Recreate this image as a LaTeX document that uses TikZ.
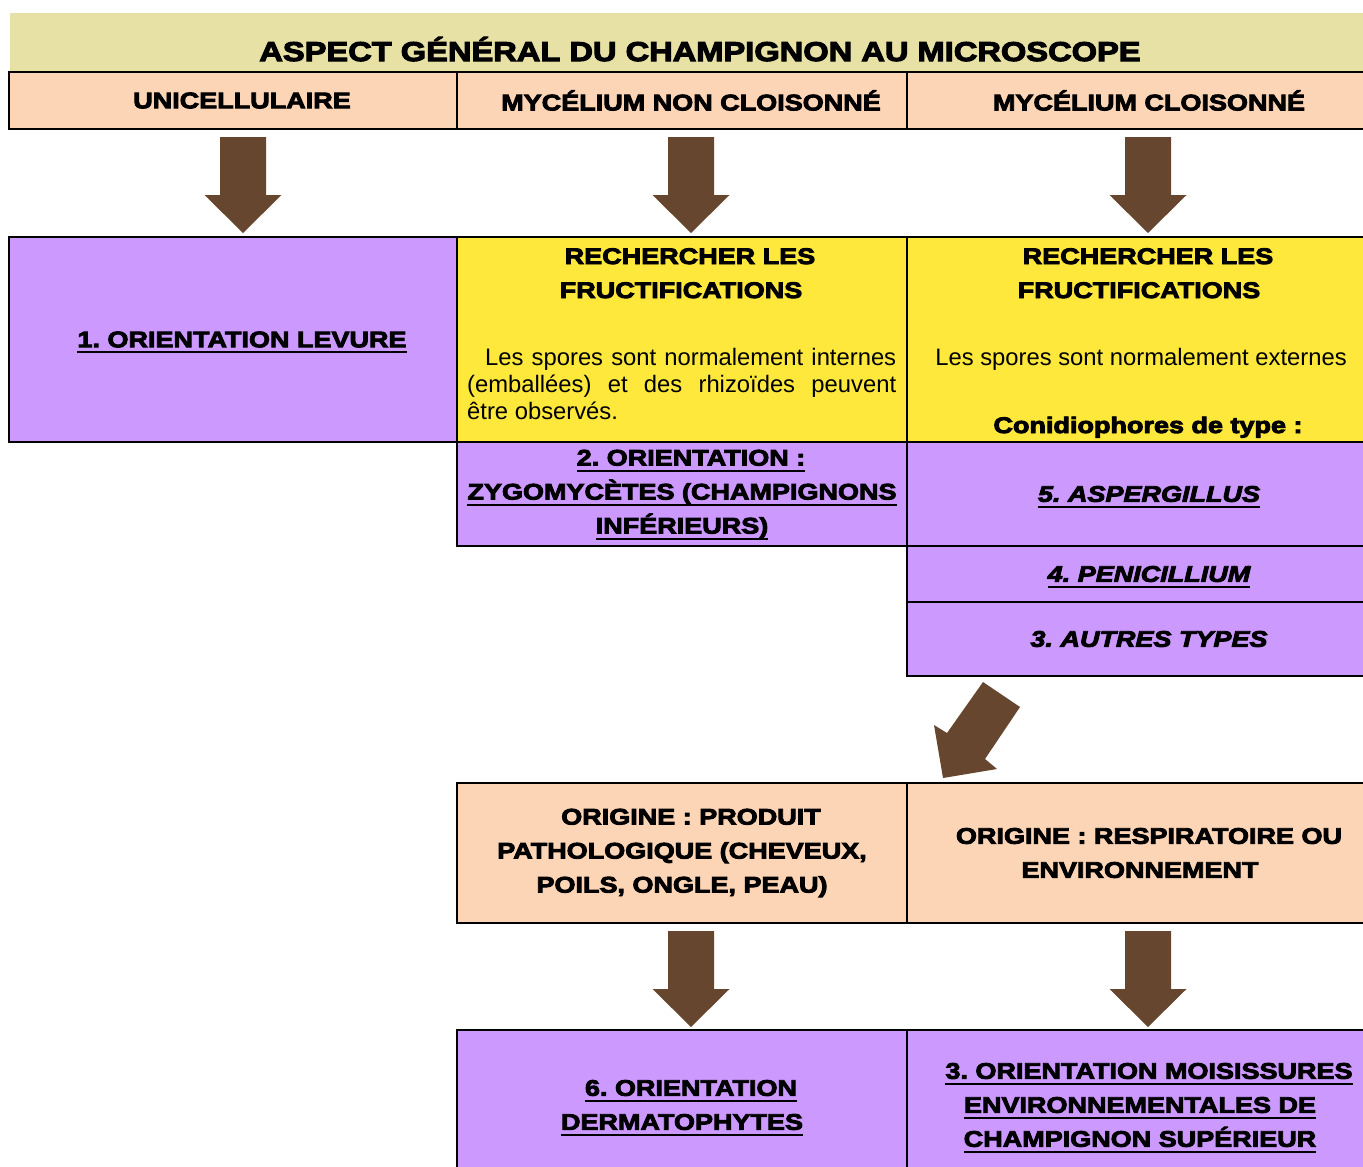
\documentclass[tikz,border=0pt]{standalone}
\usepackage{fontspec}
\setmainfont{Liberation Sans}
\newfontfamily\heavyfam{Liberation Sans Bold}[FakeBold=4,FakeStretch=1.2]
\newfontfamily\heavyitfam{Liberation Sans Bold Italic}[FakeBold=4,FakeStretch=1.2]
\usetikzlibrary{calc}
\definecolor{khaki}{HTML}{E8E1A6}
\definecolor{peach}{HTML}{FBD5B5}
\definecolor{lilac}{HTML}{CC99FF}
\definecolor{yel}{HTML}{FEE83C}
\definecolor{brn}{HTML}{67462F}
\frenchspacing
\newcommand\myul[1]{\setbox0=\hbox{#1}\rlap{\copy0}\smash{\rule[-6pt]{\wd0}{2pt}}}
\newcommand\fl{\hspace*{18pt}}
\tikzset{
  cell/.style={draw=black,line width=2pt,anchor=north west,inner sep=0pt,align=center,
    font=\heavyfam\fontsize{22.5}{34}\selectfont},
  itcell/.style={cell,font=\heavyitfam\fontsize{22.5}{34}\selectfont},
  hv/.style={inner sep=0pt,font=\heavyfam\fontsize{22.5}{34}\selectfont},
  body/.style={inner sep=0pt,font=\fontsize{23.8}{27}\selectfont},
  downarr/.pic={\fill[brn] (-23,0) -- (23,0) -- (23,58) -- (38.5,58) -- (0,96) -- (-38.5,58) -- (-23,58) -- cycle;}
}
\begin{document}
\begin{tikzpicture}[x=1pt,y=-1pt]
\useasboundingbox[fill=white] (0,0) rectangle (1363,1167);
% title band
\fill[khaki] (10,13) rectangle (1372,71);
\node[hv,anchor=base,font=\heavyfam\fontsize{27.2}{30}\selectfont] (title) at (700,61) {ASPECT GÉNÉRAL DU CHAMPIGNON AU MICROSCOPE};
% header row
\node[cell,fill=peach,minimum width=448pt,minimum height=57pt] (h1) at (8,71) {\fl UNICELLULAIRE};
\node[cell,fill=peach,minimum width=450pt,minimum height=57pt] (h2) at (456,71) {\fl MYCÉLIUM NON CLOISONNÉ};
\node[cell,fill=peach,minimum width=466pt,minimum height=57pt] (h3) at (906,71) {\fl MYCÉLIUM CLOISONNÉ};
% row 2
\node[cell,fill=lilac,minimum width=448pt,minimum height=205pt] (c1) at (8,236) {\fl\myul{1. ORIENTATION LEVURE}};
\node[cell,fill=yel,minimum width=450pt,minimum height=205pt] (y2) at (456,236) {};
\node[cell,fill=yel,minimum width=466pt,minimum height=205pt] (y3) at (906,236) {};
% row 3
\node[cell,fill=lilac,minimum width=450pt,minimum height=104pt] (z2) at (456,441)
  {\fl\myul{2. ORIENTATION :}\\\myul{ZYGOMYCÈTES (CHAMPIGNONS}\\\myul{INFÉRIEURS)}};
\node[itcell,fill=lilac,minimum width=466pt,minimum height=104pt] (a5) at (906,441) {\fl\myul{5. ASPERGILLUS}};
\node[itcell,fill=lilac,minimum width=466pt,minimum height=56pt] (a4) at (906,545) {\fl\myul{4. PENICILLIUM}};
\node[itcell,fill=lilac,minimum width=466pt,minimum height=74pt] (a3) at (906,601) {\fl 3. AUTRES TYPES};
% row 4
\node[cell,fill=peach,minimum width=450pt,minimum height=140pt] (o1) at (456,782)
  {\fl ORIGINE : PRODUIT\\PATHOLOGIQUE (CHEVEUX,\\POILS, ONGLE, PEAU)};
\node[cell,fill=peach,minimum width=466pt,minimum height=140pt] (o2) at (906,782)
  {\fl ORIGINE : RESPIRATOIRE OU\\ENVIRONNEMENT};
% row 5
\node[cell,fill=lilac,minimum width=450pt,minimum height=150pt] (d6) at (456,1029)
  {\fl\myul{6. ORIENTATION}\\\myul{DERMATOPHYTES}};
\node[cell,fill=lilac,minimum width=466pt,minimum height=150pt] (m3) at (906,1029)
  {\fl\myul{3. ORIENTATION MOISISSURES}\\\myul{ENVIRONNEMENTALES DE}\\\myul{CHAMPIGNON SUPÉRIEUR}};
% yellow cell texts
\node[hv,anchor=base] (y2a) at (690,264) {RECHERCHER LES};
\node[hv,anchor=base] (y2b) at (681,298) {FRUCTIFICATIONS};
\node[body,anchor=base west] (y2c) at (485,365) {\makebox[411pt][s]{Les spores sont normalement internes}};
\node[body,anchor=base west] (y2d) at (467,392) {\makebox[429pt][s]{(emballées) et des rhizoïdes peuvent}};
\node[body,anchor=base west] (y2e) at (467,419) {être observés.};
\node[hv,anchor=base] (y3a) at (1148,264) {RECHERCHER LES};
\node[hv,anchor=base] (y3b) at (1139,298) {FRUCTIFICATIONS};
\node[body,anchor=base] (y3c) at (1141,365) {Les spores sont normalement externes};
\node[hv,anchor=base] (y3d) at (1148,433) {Conidiophores de type :};
% arrows
\pic at ($(h1.south)+(10,7)$) {downarr};
\pic at ($(h2.south)+(9,7)$) {downarr};
\pic at ($(h3.south)+(8,7)$) {downarr};
\pic at ($(o1.south)+(9,7)$) {downarr};
\pic at ($(o2.south)+(8,7)$) {downarr};
\fill[brn] (983,682) -- (1020,707) -- (985,759) -- (997,769) -- (943,778) -- (934,725) -- (947,733) -- cycle;
\end{tikzpicture}
\end{document}
